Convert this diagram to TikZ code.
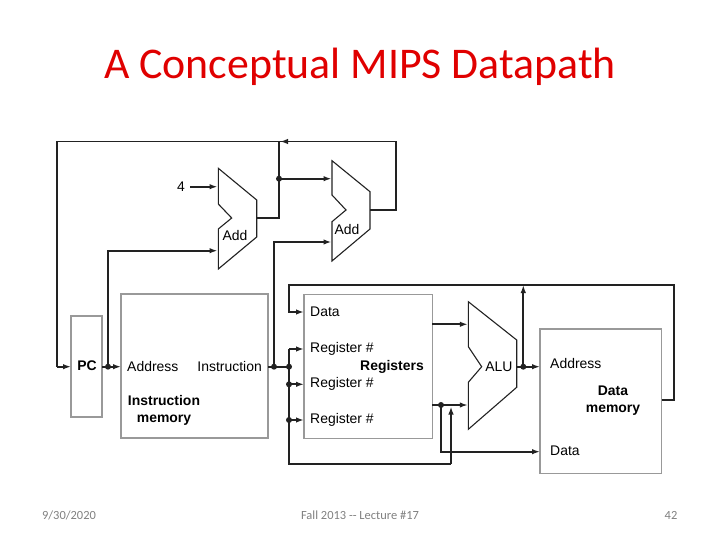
\documentclass[tikz,border=0pt]{standalone}
\usepackage{fontspec}
\setmainfont{Liberation Sans}
\newfontfamily\carfont{Carlito}
\usetikzlibrary{arrows.meta}
\definecolor{ln}{HTML}{222222}
\definecolor{ttl}{HTML}{E00000}
\begin{document}
\begin{tikzpicture}[x=1bp,y=-1bp,
  w/.style={draw=ln,line width=1.7bp},
  a/.style={w,-{Latex[length=8bp,width=5.5bp]}},
  box/.style={draw=gray!80,line width=1.1bp,fill=white},
  dot/.style={circle,fill=ln,inner sep=0,minimum size=6bp},
  lab/.style={font=\fontsize{14}{15}\selectfont,inner sep=0},
  blab/.style={font=\fontsize{14}{17}\selectfont\bfseries,inner sep=0,align=center},
  unit/.style={draw=ln,line width=1.1bp,fill=white,line join=miter}]
\useasboundingbox (0,0) rectangle (720,540);
\node[text=ttl,font=\carfont\fontsize{44}{46}\selectfont] (title) at (360,67) {A Conceptual MIPS Datapath};
\node[text=gray,font=\carfont\fontsize{12.5}{14}\selectfont] (f1) at (69,515) {9/30/2020};
\node[text=gray,font=\carfont\fontsize{12.5}{14}\selectfont] (f2) at (360,515) {Fall 2013 -- Lecture \#17};
\node[text=gray,font=\carfont\fontsize{12.5}{14}\selectfont] (f3) at (671,515) {42};
% boxes
\draw[box] (71,316) rectangle (102,417);
\node[lab,font=\fontsize{14}{15}\selectfont\bfseries] (pc) at (87,366) {PC};
\draw[box] (121,294) rectangle (268,438);
\node[lab,anchor=west] (iaddr) at (127,367) {Address};
\node[lab,anchor=east] (iins) at (262,367) {Instruction};
\node[blab] (imem) at (164,410) {Instruction\\memory};
\draw[box] (304,294.3) rectangle (432.3,438.3);
\node[lab,anchor=west] (rdata) at (310,312) {Data};
\node[lab,anchor=west] (r1) at (310,349) {Register \#};
\node[lab,anchor=west] (r2) at (310,384.3) {Register \#};
\node[lab,anchor=west] (r3) at (310,420) {Register \#};
\node[blab] (regs) at (392,366.7) {Registers};
\draw[box] (540,329) rectangle (661.7,473.3);
\node[lab,anchor=west] (daddr) at (550,364) {Address};
\node[blab] (dmem) at (613,401) {Data\\memory};
\node[lab,anchor=west] (ddata) at (550,451) {Data};
% adders and ALU
\draw[unit] (218.3,168.3) -- (256.7,200) -- (256.7,237) -- (218.3,269) -- (218.3,229) -- (231.7,218) -- (218.3,204) -- cycle;
\node[lab] (add1) at (235,236) {Add};
\draw[unit] (332,160.7) -- (370,191.7) -- (370,229) -- (332,261) -- (332,221.7) -- (346,210) -- (332,195) -- cycle;
\node[lab] (add2) at (347,230) {Add};
\draw[unit] (468.3,301.7) -- (516.7,340) -- (516.7,387.3) -- (468.3,429.3) -- (468.3,382.3) -- (481.7,366.7) -- (468.3,346.7) -- cycle;
\node[lab] (alu) at (499,366.7) {ALU};
\node[lab] (four) at (181,186.7) {4};
% junctions
\coordinate (jpc) at (108,366.7);
\coordinate (j1) at (279,178.7);
\coordinate (ji1) at (274,366.7);
\coordinate (ji2) at (289,366.7);
\coordinate (ji3) at (289,384.3);
\coordinate (ji4) at (289,420);
\coordinate (jr) at (441,405);
\coordinate (ja) at (523.3,366.7);
\foreach \p in {jpc,j1,ji1,ji2,ji3,ji4,jr,ja} \node[dot] at (\p) {};
% wires
\draw[a] (190,186.7) -- (217.5,186.7);
\draw[a] (jpc) -- (108,250.7) -- (217.5,250.7);
\draw[w] (256.7,218) -- (279,218) -- (279,141.5);
\draw[a] (j1) -- (331.5,178.7);
\draw[a] (370,210) -- (396,210) -- (396,141.5) -- (280,141.5);
\draw[w] (285,141.5) -- (56.7,141.5) -- (56.7,366.7);
\draw[a] (56.7,366.7) -- (71,366.7);
\draw[a] (102,366.7) -- (121,366.7);
\draw[w] (268,366.7) -- (ji2);
\draw[a] (ji1) -- (274,242) -- (331.5,242);
\draw[a] (289,349) -- (304,349);
\draw[a] (ji3) -- (304,384.3);
\draw[a] (ji4) -- (304,420);
\draw[w] (289,349) -- (289,464) -- (451,464);
\draw[a] (451,464) -- (451,406.5);
\draw[a] (432.3,324.3) -- (467.8,324.3);
\draw[a] (432.3,405) -- (467.8,405);
\draw[a] (jr) -- (441,451.7) -- (540,451.7);
\draw[a] (516.7,366.7) -- (540,366.7);
\draw[a] (ja) -- (523.3,285);
\draw[a] (661.7,400) -- (674,400) -- (674,285) -- (289,285) -- (289,312) -- (304,312);
\end{tikzpicture}
\end{document}
